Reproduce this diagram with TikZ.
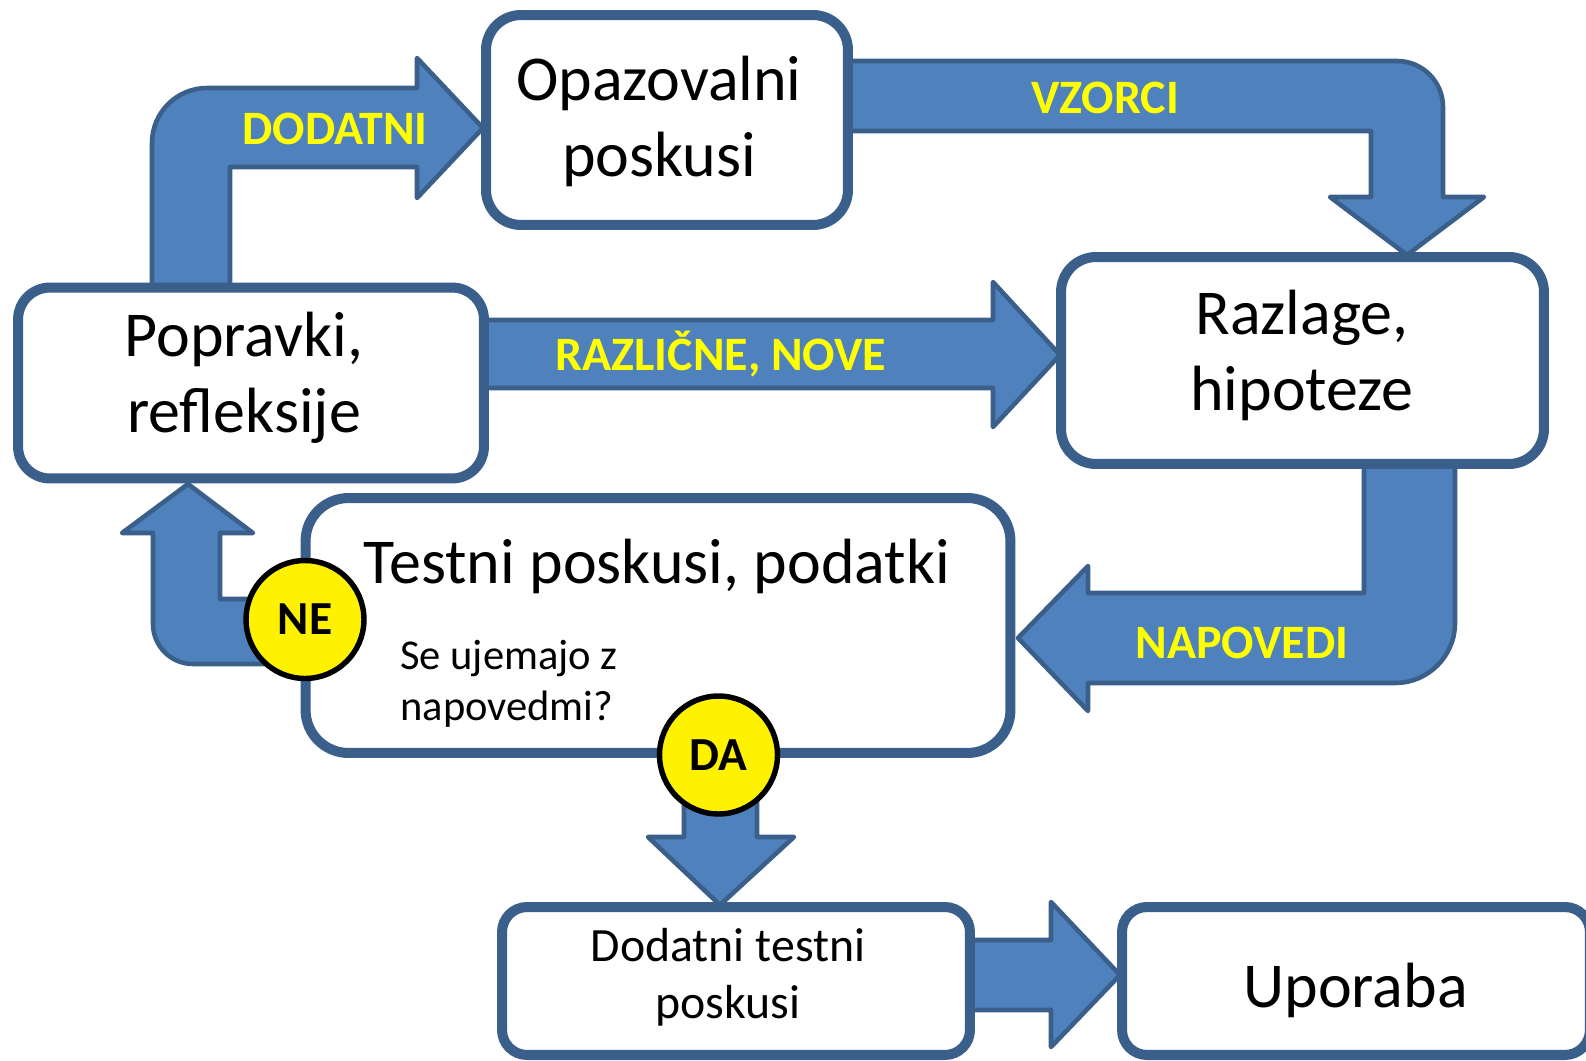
\documentclass[tikz,border=0pt]{standalone}
\usepackage{fontspec}
\setmainfont{Carlito}
\definecolor{boxline}{HTML}{3A5F8B}
\definecolor{arrowfill}{HTML}{4F81BD}
\definecolor{lblyellow}{HTML}{FFFF00}
\begin{document}
\begin{tikzpicture}[x=0.02cm,y=-0.02cm,
  box/.style={draw=boxline, line width=5.7pt, fill=white, rectangle, inner sep=0pt},
  blockarrow/.style={draw=boxline, fill=arrowfill, line width=2.6pt, line join=round},
  lbl/.style={text=lblyellow, font=\bfseries\fontsize{27.3pt}{32pt}\selectfont, inner sep=0pt, anchor=base},
  maintext/.style={font=\fontsize{36.4pt}{43.5pt}\selectfont, align=center, inner sep=0pt},
  yesno/.style={circle, draw=black, fill=yellow, line width=3.1pt, minimum size=2.36cm, inner sep=0pt, font=\bfseries\fontsize{27pt}{30pt}\selectfont}
]
\useasboundingbox (0,0) rectangle (1586,1061);

% block arrows
\path[blockarrow] (152,287) -- (152,143) arc[start angle=180,end angle=270,radius=55] -- (417,88) -- (417,58) -- (483,128) -- (417,198) -- (417,167) -- (230,167) -- (230,287) -- cycle;
\path[blockarrow] (848,61) -- (1397,61) arc[start angle=270,end angle=360,radius=46] -- (1443,197) -- (1484,197) -- (1407,255) -- (1330,197) -- (1371,197) -- (1371,131) -- (848,131) -- cycle;
\path[blockarrow] (484,320) -- (993,320) -- (993,282) -- (1060,355) -- (993,427) -- (993,388) -- (484,388) -- cycle;
\path[blockarrow] (1364,464) -- (1364,593) -- (1088,593) -- (1088,566) -- (1018,638) -- (1088,711) -- (1088,683) -- (1395,683) arc[start angle=90,end angle=0,radius=60] -- (1455,464) -- cycle;
\path[blockarrow] (300,599) -- (220,599) -- (220,533) -- (253,533) -- (188,484) -- (122,533) -- (153,533) -- (153,624) arc[start angle=180,end angle=90,radius=40] -- (300,664) -- cycle;
\path[blockarrow] (684,755) -- (684,837) -- (648,837) -- (720,905) -- (794,837) -- (757,837) -- (757,755) -- cycle;
\path[blockarrow] (969,940) -- (1051,940) -- (1051,902) -- (1120,975) -- (1051,1047) -- (1051,1010) -- (969,1010) -- cycle;

% boxes
\node[box, rounded corners=0.7cm, minimum width=7.24cm, minimum height=4.2cm] (opaz) at (667,120) {};
\node[box, rounded corners=0.7cm, minimum width=9.66cm, minimum height=4.14cm] (razl) at (1302.5,360.5) {};
\node[box, rounded corners=0.64cm, minimum width=9.32cm, minimum height=3.82cm] (popr) at (251,383) {};
\node[box, rounded corners=0.86cm, minimum width=14.1cm, minimum height=5.1cm] (test) at (658,625.5) {};
\node[box, rounded corners=0.5cm, minimum width=9.36cm, minimum height=2.96cm] (dodt) at (736,981) {};
\node[box, rounded corners=0.5cm, minimum width=9.36cm, minimum height=2.96cm] (upor) at (1356,981) {};

% box texts
\node[maintext] (opazT) at (659,121.5) {Opazovalni\\poskusi};
\node[maintext] (poprT) at (244,377.5) {Popravki,\\refleksije};
\node[maintext] (razlT) at (1302,355.5) {Razlage,\\hipoteze};
\node[maintext, anchor=base] (testT) at (657,583) {Testni poskusi, podatki};
\node[font=\fontsize{24.2pt}{29pt}\selectfont, align=left, inner sep=0pt, anchor=west] (questT) at (400,683.5) {Se ujemajo z\\napovedmi?};
\node[font=\fontsize{27.2pt}{32.3pt}\selectfont, align=center, inner sep=0pt] (dodtT) at (728,977.5) {Dodatni testni\\poskusi};
\node[maintext, anchor=base] (uporT) at (1355.6,1007) {Uporaba};

% arrow labels
\node[lbl] (lDod) at (335,145) {DODATNI};
\node[lbl] (lVzo) at (1105,113) {VZORCI};
\node[lbl] (lRaz) at (721,370) {RAZLIČNE, NOVE};
\node[lbl] (lNap) at (1242,658) {NAPOVEDI};

% decision circles
\node[yesno] (ne) at (305,619.5) {NE};
\node[yesno] (da) at (718.5,755) {DA};
\end{tikzpicture}
\end{document}
